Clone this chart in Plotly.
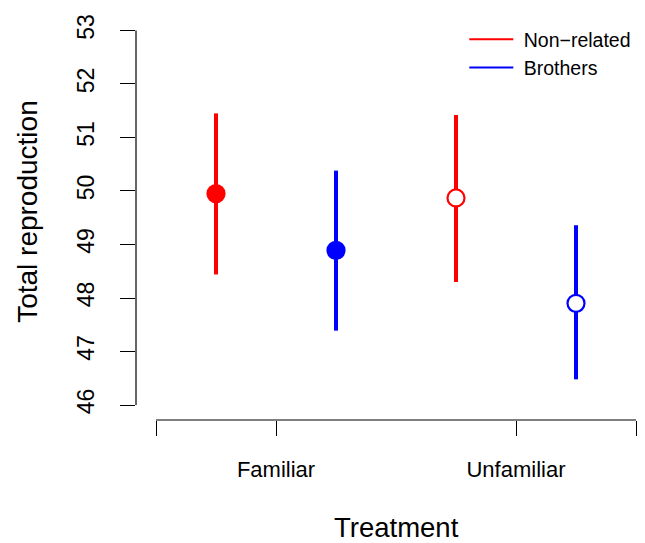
import plotly.graph_objects as go

# Data
treatments = ["Familiar", "Unfamiliar"]
groups = ["Non\u2212related", "Brothers"]
colors = ["#FF0000", "#0000FF"]
positions = {"Non\u2212related": [0.75, 1.75], "Brothers": [1.25, 2.25]}
means = {"Non\u2212related": [49.95, 49.87], "Brothers": [48.89, 47.90]}
upper = {"Non\u2212related": [51.45, 51.42], "Brothers": [50.38, 49.36]}
lower = {"Non\u2212related": [48.44, 48.30], "Brothers": [47.39, 46.48]}
y_ticks = [46, 47, 48, 49, 50, 51, 52, 53]
x_ticks = [0.5, 1, 2, 2.5]
x_ticktext = ["", "Familiar", "Unfamiliar", ""]

FONT = "Liberation Sans, Arial, Helvetica, sans-serif"

fig = go.Figure()

for g, c in zip(groups, colors):
    xs = positions[g]
    ms = means[g]
    up = [u - m for u, m in zip(upper[g], ms)]
    lo = [m - l for m, l in zip(ms, lower[g])]
    for i in range(len(treatments)):
        filled = (i == 0)
        fig.add_trace(go.Scatter(
            x=[xs[i]], y=[ms[i]], mode="markers", showlegend=False,
            error_y=dict(type="data", symmetric=False, array=[up[i]], arrayminus=[lo[i]],
                         color=c, thickness=4, width=0),
            marker=dict(symbol="circle", size=17,
                        color=c if filled else "white",
                        line=dict(color=c, width=2.2)),
        ))

# legend entries (lines)
for g, c in zip(groups, colors):
    fig.add_trace(go.Scatter(x=[None], y=[None], mode="lines", name="\u00a0" + g,
                             line=dict(color=c, width=2)))

# R-style axis lines (only spanning the ticks)
fig.add_shape(type="line", xref="x", yref="paper", x0=x_ticks[0], x1=x_ticks[-1], y0=0, y1=0,
              line=dict(color="black", width=1.2))
fig.add_shape(type="line", xref="paper", yref="y", x0=0, x1=0, y0=y_ticks[0], y1=y_ticks[-1],
              line=dict(color="black", width=1.2))

fig.add_annotation(text="Treatment", x=1.5, xref="x", y=0, yref="paper", yshift=-107,
                   showarrow=False, yanchor="middle", xanchor="center", borderpad=0,
                   font=dict(family=FONT, size=27.5, color="black"))
fig.add_annotation(text="Total reproduction", x=0, xref="paper", xshift=-108, y=49.61, yref="y",
                   showarrow=False, textangle=-90, xanchor="center", yanchor="middle",
                   font=dict(family=FONT, size=28, color="black"))

fig.update_layout(
    width=645, height=543,
    margin=dict(l=136, r=0, t=16, b=123),
    paper_bgcolor="white", plot_bgcolor="white",
    font=dict(family=FONT, color="black"),
    xaxis=dict(range=[0.41667, 2.5375], showgrid=False, zeroline=False, showline=False,
               tickmode="array", tickvals=x_ticks, ticktext=x_ticktext,
               ticks="outside", ticklen=15, tickwidth=1.2, tickcolor="black",
               tickfont=dict(size=22, family=FONT), ticklabelstandoff=15),
    yaxis=dict(range=[45.72, 53.27], showgrid=False, zeroline=False, showline=False,
               tickmode="array", tickvals=y_ticks,
               ticks="outside", ticklen=15, tickwidth=1.2, tickcolor="black",
               tickangle=-90, tickfont=dict(size=23, family=FONT), ticklabelstandoff=17),
    legend=dict(x=0.645, y=0.99, xanchor="left", yanchor="top",
                font=dict(size=19.5, family=FONT), bgcolor="rgba(0,0,0,0)",
                tracegroupgap=0, itemwidth=44),
    showlegend=True,
)

fig.write_html("out.html")
